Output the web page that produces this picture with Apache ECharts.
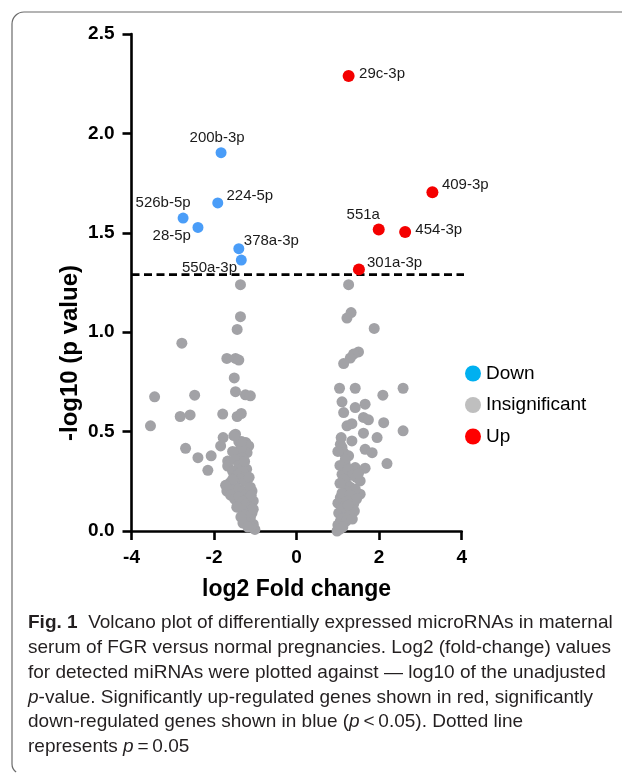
<!DOCTYPE html>
<html><head><meta charset="utf-8">
<script src="https://cdn.jsdelivr.net/npm/echarts@6/dist/echarts.min.js"></script>
<style>html,body{margin:0;padding:0;background:#fff}#c{width:622px;height:776px}</style>
</head><body><div id="c"></div>
<script>
// ---- data ----
const downNames = ['200b-3p','224-5p','526b-5p','28-5p','378a-3p','550a-3p'];
const downX = [-1.83,-1.91,-2.75,-2.39,-1.40,-1.34];
const downY = [1.903,1.650,1.574,1.527,1.420,1.363];

const upNames = ['29c-3p','409-3p','551a','454-3p','301a-3p'];
const upX = [1.26,3.29,1.99,2.63,1.51];
const upY = [2.289,1.704,1.517,1.504,1.316];

const insigX = [
 -1.36,-1.36,-1.44,-2.78,-1.69,-1.48,-1.40,-1.51,-3.44,-2.47,-1.48,-1.24,-1.12,-3.54,-2.82,-2.58,-1.79,-1.44,-1.34,-2.69,-2.39,-2.07,-2.15,
 -1.48,-1.78,-1.84,-1.23,-1.16,-1.20,-1.44,-1.32,-1.67,-1.67,-1.21,-1.28,-1.61,-1.53,-1.69,-1.08,-1.45,-1.05,-1.36,-1.20,-1.12,-1.05,-1.01,
 -1.40,-1.35,-1.55,-1.50,-1.40,-1.30,-1.55,-1.45,-1.35,-1.25,-1.15,-1.50,-1.40,-1.30,-1.20,-1.12,-1.60,-1.50,-1.40,-1.30,-1.20,-1.12,-1.45,
 -1.30,-1.25,-1.15,-1.35,-1.20,-1.10,-1.30,-1.18,-1.08,-1.55,-1.72,-1.10,-1.05,-1.26,-1.33,-1.52,
 1.26,1.32,1.22,1.88,1.50,1.38,1.30,1.14,1.04,1.42,2.58,2.09,1.10,1.66,1.42,1.14,1.62,1.74,2.11,1.22,1.34,2.58,1.62,1.95,1.34,1.06,1.66,
 1.83,1.14,1.26,2.19,1.66,1.42,1.18,1.10,1.54,1.22,1.54,1.06,1.38,1.14,1.30,1.06,0.98,
 1.10,1.18,1.05,1.25,1.35,1.45,1.15,1.05,1.30,1.42,1.20,1.10,1.30,1.45,1.00,1.22,1.10,1.30,1.40,1.20,1.02,1.10,1.20,1.00,1.12,1.05,1.15,
 1.25,1.35,1.08,1.00,1.50
];
const insigY = [
 1.239,1.078,1.014,0.945,0.868,0.868,0.860,0.770,0.675,0.683,0.701,0.685,0.680,0.529,0.576,0.584,0.588,0.576,0.591,0.416,0.369,0.378,0.305,
 0.487,0.470,0.428,0.445,0.428,0.394,0.386,0.369,0.352,0.327,0.311,0.294,0.243,0.218,0.201,0.201,0.151,0.151,0.117,0.101,0.067,0.034,0.008,
 0.45,0.42,0.40,0.36,0.33,0.32,0.30,0.28,0.26,0.25,0.27,0.22,0.21,0.20,0.19,0.22,0.18,0.16,0.17,0.15,0.14,0.12,0.12,
 0.10,0.08,0.06,0.07,0.04,0.02,0.04,0.02,0.09,0.26,0.23,0.18,0.11,0.35,0.45,0.48,
 1.239,1.099,1.071,1.019,0.901,0.890,0.870,0.842,0.718,0.718,0.718,0.683,0.650,0.638,0.621,0.596,0.571,0.559,0.545,0.529,0.540,0.504,0.492,0.470,0.453,0.436,0.411,
 0.394,0.394,0.378,0.339,0.316,0.319,0.334,0.285,0.252,0.235,0.185,0.168,0.134,0.101,0.084,0.050,0.000,
 0.42,0.36,0.33,0.31,0.28,0.27,0.26,0.24,0.22,0.21,0.20,0.19,0.18,0.16,0.14,0.15,0.12,0.11,0.10,0.08,0.09,0.06,0.05,0.03,0.02,0.01,0.12,
 0.13,0.06,0.47,0.40,0.29
];

const pThreshold = 1.29;          // dashed line, p = 0.05
const thresholdXRange = [-4, 4.27];
const xTickValues = [-4,-2,0,2,4];
const yTickValues = [0,0.5,1,1.5,2,2.5];
const legendNames = ['Down','Insignificant','Up'];
const xAxisTitle = 'log2 Fold change';
const yAxisTitle = '-log10 (p value)';
const captionLines = [
 '{b|Fig. 1}  Volcano plot of differentially expressed microRNAs in maternal',
 'serum of FGR versus normal pregnancies. Log2 (fold-change) values',
 'for detected miRNAs were plotted against \u2014 log10 of the unadjusted',
 '{i|p}-value. Significantly up-regulated genes shown in red, significantly',
 'down-regulated genes shown in blue ({i|p}\u2009<\u20090.05). Dotted line',
 'represents {i|p}\u2009=\u20090.05'
];

// ---- label placement (style, relative to point centre) ----
const labelPlace = {
 '200b-3p':[-4,-14.7,'center'], '224-5p':[8.7,-7.3,'left'], '526b-5p':[-20,-15.6,'center'],
 '28-5p':[-7,8.3,'right'], '378a-3p':[5,-8,'left'], '550a-3p':[-4.3,7.4,'right'],
 '29c-3p':[11,-2,'left'], '409-3p':[10,-6.7,'left'], '551a':[-15,-13.7,'center'],
 '454-3p':[10.7,-2,'left'], '301a-3p':[8.6,-6,'left']
};
const SYM = 11;
function labelled(names, xs, ys){
  return names.map((n,i)=>{
    const p = labelPlace[n];
    return {name:n, value:[xs[i],ys[i]], label:{show:true, formatter:n,
      position:[SYM/2+p[0], SYM/2+p[1]], align:p[2], verticalAlign:'middle'}};
  });
}
const insigData = insigX.map((x,i)=>[x, insigY[i]]);

const FONT = '"Liberation Sans", Arial, sans-serif';
const txt = {fontFamily:FONT, fontSize:15, color:'#1a1a1a'};
const chart = echarts.init(document.getElementById('c'), null, {renderer:'canvas'});
const axisCommon = {
  axisLine:{show:true, onZero:false, lineStyle:{color:'#000', width:2.6}},
  axisTick:{show:true, inside:false, length:9, lineStyle:{color:'#000', width:2.6}},
  splitLine:{show:false},
  axisLabel:{fontFamily:FONT, fontWeight:'bold', fontSize:19, color:'#000'}
};
chart.setOption({
  animation:false,
  backgroundColor:'#fff',
  grid:{left:131.5, right:160.3, top:34, bottom:245, containLabel:false},
  xAxis:Object.assign({}, axisCommon, {type:'value', min:xTickValues[0], max:xTickValues[xTickValues.length-1], interval:2,
    axisLabel:Object.assign({}, axisCommon.axisLabel, {margin:17})}),
  yAxis:Object.assign({}, axisCommon, {type:'value', min:yTickValues[0], max:yTickValues[yTickValues.length-1], interval:0.5,
    axisLabel:Object.assign({}, axisCommon.axisLabel, {margin:17, formatter:v=>v.toFixed(1)})}),
  legend:{orient:'vertical', left:460, top:359, padding:5, itemWidth:16, itemHeight:16, itemGap:12.5, icon:'circle',
    selectedMode:false,
    textStyle:{fontFamily:FONT, fontSize:19, color:'#000'},
    data:[{name:legendNames[0], itemStyle:{color:'#00b0f0'}},
          {name:legendNames[1], itemStyle:{color:'#bfbfbf'}},
          {name:legendNames[2], itemStyle:{color:'#ff0000'}}]},
  series:[
    {name:legendNames[1], type:'scatter', symbolSize:SYM, data:insigData, itemStyle:{color:'#a2a2a6', opacity:1}, z:2},
    {name:'threshold', type:'line', data:[[thresholdXRange[0],pThreshold],[thresholdXRange[1],pThreshold]], symbol:'none', clip:false,
      lineStyle:{color:'#000', width:2.8, type:[8,4.5]}, z:3, silent:true},
    {name:legendNames[0], type:'scatter', symbolSize:SYM, data:labelled(downNames,downX,downY), itemStyle:{color:'#4a9df8', opacity:1}, label:txt, z:4},
    {name:legendNames[2], type:'scatter', symbolSize:SYM+1, data:labelled(upNames,upX,upY), itemStyle:{color:'#f40000', opacity:1}, label:txt, z:4}
  ],
  graphic:[
    {type:'arc', shape:{cx:24, cy:24, r:12, startAngle:Math.PI, endAngle:Math.PI*1.5, clockwise:true}, style:{stroke:'#6a6a6a', lineWidth:1.2, fill:null}},
    {type:'line', shape:{x1:24, y1:12, x2:622, y2:12}, style:{stroke:'#6a6a6a', lineWidth:1.2}},
    {type:'line', shape:{x1:12, y1:24, x2:12, y2:764}, style:{stroke:'#6a6a6a', lineWidth:1.2}},
    {type:'arc', shape:{cx:22, cy:764, r:10, startAngle:Math.PI*0.7, endAngle:Math.PI, clockwise:true}, style:{stroke:'#6a6a6a', lineWidth:1.2, fill:null}},
    {type:'text', x:296.6, y:590, style:{text:xAxisTitle, font:'bold 23px ' + FONT, fill:'#000', align:'center', verticalAlign:'middle'}},
    {type:'text', x:70, y:353, rotation:Math.PI/2, style:{text:yAxisTitle, font:'bold 24px ' + FONT, fill:'#000', align:'center', verticalAlign:'middle'}}
  ].concat(captionLines.map((line,i)=>({
    type:'text', x:28, y:623 + i*24.8,
    style:{text:line, fontFamily:FONT, fontSize:19, fill:'#231f20',
      verticalAlign:'middle', align:'left',
      rich:{b:{fontWeight:'bold', fontFamily:FONT, fontSize:19, fill:'#231f20'},
            i:{fontStyle:'italic', fontFamily:FONT, fontSize:19, fill:'#231f20'}}}
  })))
});
</script></body></html>
